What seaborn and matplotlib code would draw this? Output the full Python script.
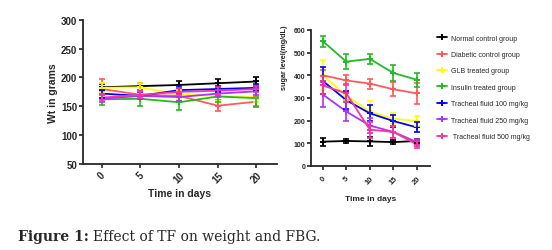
import numpy as np
import matplotlib
matplotlib.use("Agg")
import matplotlib.pyplot as plt
from matplotlib import font_manager
import seaborn as sns
import pandas as pd

sns.set_style("ticks")
plt.rcParams['font.family'] = ['Liberation Sans', 'DejaVu Sans']

installed = {f.name for f in font_manager.fontManager.ttflist}
narrow = "Liberation Sans Narrow" if "Liberation Sans Narrow" in installed else "Liberation Sans"

days = [0, 5, 10, 15, 20]
groups = ["Normal control group", "Diabetic control group", "GLB treated group",
          "Insulin treated group", "Tracheal fluid 100 mg/kg",
          "Tracheal fluid 250 mg/kg", " Tracheal fluid 500 mg/kg"]
colors = ["#000000", "#ff5a5a", "#ffff00", "#22bb22", "#0000ff", "#aa33ff", "#ff3399"]

# body weight (g)
wt_normal = [183, 185, 187, 190, 193]
wt_diabetic = [180, 170, 168, 151, 158]
wt_glb = [182, 183, 170, 168, 166]
wt_insulin = [162, 163, 157, 167, 164]
wt_tf100 = [172, 168, 178, 180, 182]
wt_tf250 = [163, 168, 166, 172, 176]
wt_tf500 = [165, 170, 175, 177, 180]
wt_err = [[6, 6, 6, 7, 7], [17, 8, 8, 10, 8], [8, 8, 8, 8, 8], [9, 13, 14, 9, 15],
          [7, 6, 7, 6, 6], [6, 6, 6, 6, 6], [6, 6, 6, 6, 6]]

# fasting blood glucose (mg/dL)
fbg_normal = [107, 110, 108, 105, 110]
fbg_diabetic = [400, 377, 363, 338, 320]
fbg_glb = [400, 310, 240, 208, 198]
fbg_insulin = [550, 460, 472, 410, 380]
fbg_tf100 = [375, 290, 232, 198, 170]
fbg_tf250 = [315, 240, 178, 150, 105]
fbg_tf500 = [355, 320, 160, 150, 95]
fbg_err = [[18, 8, 18, 8, 8], [25, 22, 22, 30, 45], [65, 20, 45, 25, 20], [25, 32, 22, 35, 30],
           [60, 40, 35, 25, 22], [55, 40, 35, 25, 15], [40, 40, 35, 25, 15]]

wt_series = [wt_normal, wt_diabetic, wt_glb, wt_insulin, wt_tf100, wt_tf250, wt_tf500]
fbg_series = [fbg_normal, fbg_diabetic, fbg_glb, fbg_insulin, fbg_tf100, fbg_tf250, fbg_tf500]


def long_df(series):
    rows = []
    for g, vals in zip(groups, series):
        for d, v in zip(days, vals):
            rows.append({"day": d, "value": v, "group": g})
    return pd.DataFrame(rows)


fig = plt.figure(figsize=(5.52, 2.51), dpi=100)
ax1 = fig.add_axes([0.150, 0.343, 0.351, 0.574])
ax2 = fig.add_axes([0.563, 0.335, 0.216, 0.542])

pal = dict(zip(groups, colors))

for ax, series, errs, fs in [(ax1, wt_series, wt_err, 7), (ax2, fbg_series, fbg_err, 5)]:
    sns.lineplot(data=long_df(series), x="day", y="value", hue="group", palette=pal,
                 marker="P", markersize=5, markeredgewidth=0, linewidth=1.3, ax=ax,
                 legend=(ax is ax2))
    for c, vals, e in zip(colors, series, errs):
        ax.errorbar(days, vals, yerr=e, fmt="none", ecolor=c, elinewidth=1.2,
                    capsize=2.5, capthick=1.2)
    ax.set_xticks(days)
    ax.set_xticklabels([str(d) for d in days], rotation=45, fontsize=fs, fontweight="bold")
    sns.despine(ax=ax)
    ax.spines["left"].set_linewidth(1.3)
    ax.spines["bottom"].set_linewidth(1.3)
    ax.tick_params(width=1.2, length=3, pad=1)

ax1.set_xlim(-2.45, 22.6)
ax1.set_ylim(50, 300)
ax1.set_yticks([50, 100, 150, 200, 250, 300])
ax1.set_yticklabels(["50", "100", "150", "200", "250", "300"], fontsize=7, fontweight="bold")
ax1.set_xlabel("Time in days", fontsize=7.5, fontweight="bold", labelpad=3)
ax1.set_ylabel("Wt in grams", fontsize=7.5, fontweight="bold", labelpad=2)

ax2.set_xlim(-2.55, 22.8)
ax2.set_ylim(0, 600)
ax2.set_yticks([0, 100, 200, 300, 400, 500, 600])
ax2.set_yticklabels(["0", "100", "200", "300", "400", "500", "600"], fontsize=5, fontweight="bold")
ax2.set_xticklabels([str(d) for d in days], rotation=45, fontsize=5.5, fontweight="bold")
ax2.tick_params(axis="x", pad=3)
ax2.set_xlabel("Time in days", fontsize=6, fontweight="bold", labelpad=7, family=narrow)
ax2.set_ylabel("sugar level(mg/dL)", fontsize=5.2, fontweight="bold", family=narrow)
ax2.yaxis.set_label_coords(-0.19, 0.8)

leg = ax2.legend(loc="upper left", bbox_to_anchor=(1.02, 0.995), frameon=False,
                 fontsize=5.0, handlelength=1.5, handletextpad=0.6, labelspacing=1.35,
                 borderaxespad=0.2)
for t in leg.get_texts():
    t.set_fontfamily(narrow)

fig.canvas.draw()
cap1 = fig.text(0.033, 0.04, "Figure 1:", fontsize=10, fontweight="bold", family="DejaVu Serif")
fig.canvas.draw()
bb = cap1.get_window_extent()
fig.text((bb.x1 + 4) / fig.bbox.width, 0.04, "Effect of TF on weight and FBG.",
         fontsize=10, family="DejaVu Serif")

fig.savefig("out.png", dpi=100)
